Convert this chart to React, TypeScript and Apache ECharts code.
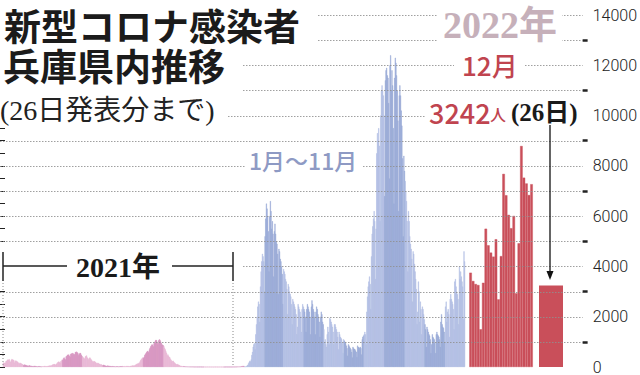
import React, { useEffect, useRef } from "react";
import * as echarts from "echarts";

// Daily new cases in Hyogo (one array per month)
const cases2021: number[][] = [
  [180,150,170,160,230,250,280,300,290,310,230,200,280,320,300,290,270,180,240,260,230,220,200,170,120,170,160,140,130,110,90],
  [70,100,90,80,70,60,50,40,70,60,50,50,40,35,25,40,45,40,35,30,25,20,30,35,30,25,20,20],
  [25,30,30,35,40,30,25,30,40,45,50,55,60,50,70,90,100,110,120,110,90,120,140,180,200,220,190,170,230,260,300],
  [280,350,380,330,300,420,440,490,480,500,450,400,520,540,510,560,530,480,520,600,580,610,580,540,470,520,560,550,490,430],
  [420,380,360,330,420,440,460,380,340,300,360,380,340,300,260,230,200,240,230,210,180,160,140,170,150,130,120,100,110,90,70],
  [80,90,70,60,50,45,40,60,50,45,40,35,30,25,35,30,28,25,22,20,25,28,25,22,20,25,30,28,30,35],
  [30,28,32,30,25,35,40,38,36,30,28,40,45,50,55,60,58,50,70,90,110,120,140,130,160,180,230,280,320,350,380],
  [360,400,480,520,560,600,640,620,580,700,760,820,860,900,880,820,940,1000,1050,1080,1060,980,900,1060,1100,1080,1020,960,900,880,860],
  [820,760,700,620,560,460,500,450,400,380,320,280,220,240,250,200,180,150,120,110,100,120,90,80,60,50,45,40,30,35],
  [30,25,20,22,20,15,18,15,12,10,12,10,8,10,9,8,7,6,8,7,6,5,6,5,4,5,6,4,3,5,4],
  [3,4,3,2,3,4,2,3,2,1,2,3,2,1,2,3,2,1,2,2,3,2,1,2,3,2,3,2,3,2],
  [3,2,3,4,2,3,4,5,3,4,3,2,4,5,6,5,6,8,7,9,10,12,15,18,16,20,25,30,40,35,45],
];

const cases2022JanNov: number[][] = [
  [15,20,20,40,60,90,150,200,250,220,300,480,600,800,900,950,700,1300,1700,2000,2400,2600,2500,1800,3200,3800,4200,4500,4400,4200,3000],
  [5200,5900,6500,6300,6000,5400,3800,6000,6600,6200,5500,5800,5300,3600,5400,5700,5300,5000,4900,4500,2900,4700,4600,4300,4200,4000,3700,2500],
  [3900,3800,3700,3500,3400,3100,2100,3300,3200,3000,2900,2800,2500,1700,2700,2600,2500,2400,2300,2100,1300,1600,2500,2400,2300,2200,2000,1400,2300,2500,2400],
  [2300,2200,2000,1400,2300,2500,2400,2300,2200,2000,1300,2400,2650,2500,2300,2200,2000,1300,2200,2400,2300,2100,2000,1800,1200,2000,2200,2100,1800,1700],
  [1500,1000,1100,900,800,1300,1600,1400,900,1950,1900,1800,1700,1600,1400,900,1700,1700,1600,1500,1400,1200,700,1400,1300,1200,1150,1100,950,550,1100],
  [1050,1000,950,850,750,450,900,850,800,750,700,600,380,800,750,720,700,650,600,400,850,800,780,750,800,750,500,1100,1200,1250],
  [1300,1400,1300,900,2200,2800,3200,3400,3600,3300,2300,4400,5300,5600,5900,6200,5800,3500,5500,8500,9300,9000,9500,8800,5800,10000,11000,11200,11000,10800,10000],
  [6800,11400,11800,11900,11600,11500,10500,7500,12000,12400,11000,11800,11200,9500,6500,11500,12300,12100,11600,11000,9800,6200,10800,11200,10800,10200,9600,8300,5200,8400,7800],
  [7400,7000,6600,5800,3800,6200,5800,5200,4900,4700,4300,2600,4600,4500,4100,3800,3500,3100,1700,2200,3400,3000,1800,2600,2300,1300,2400,2300,2100,1900],
  [1700,1500,800,1600,1500,1400,1300,1250,1100,550,900,1300,1200,1150,1100,950,550,1300,1400,1300,1250,1200,1100,800,1800,2100,1700,1600,1550,1400,1000],
  [2400,2600,1800,2200,2300,2100,1200,2700,2900,2700,2600,2500,2300,1500,3400,3500,3200,3000,2900,2700,1700,4000,3500,3800,3600,3400,3200,1900,4600,4200],
];

const casesDec2022: number[] = [3750,3420,3300,3260,1500,3350,5500,4840,4550,4390,5080,2690,4410,7680,6830,6050,5520,6010,2930,4920,8790,7530,7300,6840,7270];
const lastDayLabel = "2022/12/26";
const lastDayValue = 3242;

const yMin = 0;
const yMax = 14000;
const yStep = 1000;
const yLabelStep = 2000;
const oddThousandTicks = [1000, 3000, 5000, 7000, 9000, 11000, 13000];
const gridLineValues = [1000, 2000, 3000, 4000, 5000, 6000, 7000, 8000, 9000, 10000, 11000, 12000, 13000, 14000];

const pinkLight = "#e9b6d5";
const pinkDark = "#d793bf";
const blueLight = "#b1bee4";
const blueDark = "#97a8d6";
const red = "#c94f5a";

const TOP = 15;
const H = 352;

function buildMain() {
  const labels: string[] = [];
  const data: any[] = [];
  const years: [number, number[][], string, string][] = [
    [2021, cases2021, pinkLight, pinkDark],
    [2022, cases2022JanNov, blueLight, blueDark],
  ];
  years.forEach(([year, months, light, dark]) => {
    months.forEach((arr, m) => {
      arr.forEach((v, d) => {
        labels.push(`${year}/${m + 1}/${d + 1}`);
        const c = m % 2 === 1 ? dark : light;
        data.push({ value: v, itemStyle: { color: c, borderColor: c, borderWidth: 0.4 } });
      });
    });
  });
  return { labels, data };
}

export default function App() {
  const ref = useRef<HTMLDivElement>(null);
  useEffect(() => {
    document.body.style.margin = "0";
    if (!ref.current) return;
    const chart = echarts.init(ref.current, undefined, { renderer: "svg" });
    const main = buildMain();
    const decLabels = casesDec2022.map((_, i) => `2022/12/${i + 1}`);
    const hiddenY = (gi: number) => ({
      type: "value", gridIndex: gi, min: yMin, max: yMax, show: false, splitLine: { show: false },
    });
    const sans = '"Noto Sans CJK JP", sans-serif';
    const serif = '"Liberation Serif", "DejaVu Serif", "Noto Sans CJK JP", serif';
    const white = { fill: "#ffffff" };
    const option: any = {
      animation: false,
      backgroundColor: "#ffffff",
      grid: [
        { left: 3, top: TOP, width: 462, height: H },
        { left: 469.3, top: TOP, width: 63.5, height: H },
        { left: 539, top: TOP, width: 24, height: H },
        { left: 0, top: TOP, width: 583, height: H },
      ],
      xAxis: [
        { type: "category", gridIndex: 0, data: main.labels, show: false },
        { type: "category", gridIndex: 1, data: decLabels, show: false },
        { type: "category", gridIndex: 2, data: [lastDayLabel], show: false },
        { type: "value", gridIndex: 3, min: 0, max: 1, show: false },
      ],
      yAxis: [
        hiddenY(0),
        hiddenY(1),
        hiddenY(2),
        {
          type: "value", gridIndex: 3, min: yMin, max: yMax, interval: yStep, position: "right",
          axisLine: { show: false },
          axisTick: { show: true, length: 5, lineStyle: { color: "#222", width: 1 } },
          minorTick: { show: true, splitNumber: 2, length: 5, lineStyle: { color: "#222", width: 1 } },
          minorSplitLine: { show: false },
          axisLabel: {
            margin: 10, color: "#222", fontSize: 16, fontFamily: "Roboto", fontWeight: 300,
            formatter: (v: number) => (v % yLabelStep === 0 ? String(v) : ""),
          },
          splitLine: { show: false },
        },
        {
          type: "value", gridIndex: 3, min: yMin, max: yMax, interval: yStep, position: "right",
          axisLine: { show: false },
          axisTick: { show: true, length: 5, customValues: oddThousandTicks, lineStyle: { color: "#222", width: 2.5 } },
          axisLabel: { show: false },
          splitLine: { show: false },
        },
      ],
      series: [
        { type: "bar", xAxisIndex: 0, yAxisIndex: 0, data: main.data, barCategoryGap: "0%", z: 2 },
        { type: "bar", xAxisIndex: 1, yAxisIndex: 1, data: casesDec2022, barCategoryGap: "0%", itemStyle: { color: red, borderColor: red, borderWidth: 0.4 }, z: 2 },
        { type: "bar", xAxisIndex: 2, yAxisIndex: 2, data: [lastDayValue], barWidth: "100%", itemStyle: { color: red }, z: 2 },
        {
          // dotted horizontal grid, placed through the value axis, drawn across the bars
          type: "custom", xAxisIndex: 3, yAxisIndex: 3, z: 4, silent: true,
          data: gridLineValues.map((v) => [0, v]),
          renderItem: (_params: any, api: any) => {
            const v = api.value(1);
            const a = api.coord([0, v]);
            const b = api.coord([1, v]);
            const y = Math.round(a[1]) + 0.5;
            return {
              type: "line",
              shape: { x1: a[0], y1: y, x2: b[0], y2: y },
              style: { stroke: "#8f8f8f", lineWidth: 1, lineDash: [1.5, 1.5], opacity: 0.85 },
            };
          },
        },
      ],
      graphic: [
        // white patches behind texts (interrupt the dotted grid)
        { type: "rect", z: 4.5, shape: { x: 0, y: 0, width: 318, height: 44 }, style: white },
        { type: "rect", z: 4.5, shape: { x: 0, y: 44, width: 243, height: 51 }, style: white },
        { type: "rect", z: 4.5, shape: { x: 0, y: 95, width: 228, height: 32 }, style: white },
        { type: "rect", z: 4.5, shape: { x: 438, y: 3, width: 124, height: 42 }, style: white },
        { type: "rect", z: 4.5, shape: { x: 454, y: 50, width: 70, height: 28 }, style: white },
        { type: "rect", z: 4.5, shape: { x: 426, y: 99, width: 157, height: 28 }, style: white },
        { type: "rect", z: 4.5, shape: { x: 246, y: 148, width: 117, height: 26 }, style: white },
        { type: "rect", z: 4.5, shape: { x: 0, y: 254, width: 242, height: 26 }, style: white },
        // title
        { type: "text", z: 5, x: 4, y: 25, style: { text: "新型コロナ感染者", font: `bold 37px ${sans}`, fill: "#1b1b1b", verticalAlign: "middle" } },
        { type: "text", z: 5, x: 3, y: 64.5, style: { text: "兵庫県内推移", font: `bold 37px ${sans}`, fill: "#1b1b1b", verticalAlign: "middle" } },
        { type: "text", z: 5, x: 0, y: 110, style: { text: "(26日発表分まで)", font: `28px ${serif}`, fill: "#222", verticalAlign: "middle" } },
        // year / month labels
        { type: "text", z: 5, x: 443, y: 25, style: { text: "2022年", font: `bold 38px ${serif}`, fill: "#c6b0ba", verticalAlign: "middle" } },
        { type: "text", z: 5, x: 462, y: 64, style: { text: "12月", font: `500 26px ${sans}`, fill: "#c0444f", verticalAlign: "middle" } },
        { type: "text", z: 5, x: 429, y: 112, style: { text: "3242", font: `500 27px ${sans}`, fill: "#c0444f", verticalAlign: "middle" } },
        { type: "text", z: 5, x: 490, y: 114, style: { text: "人", font: `500 16px ${sans}`, fill: "#c0444f", verticalAlign: "middle" } },
        { type: "text", z: 5, x: 511, y: 112, style: { text: "(26日)", font: `bold 25px ${serif}`, fill: "#1a1a1a", verticalAlign: "middle" } },
        { type: "text", z: 5, x: 249, y: 160, style: { text: "1月～11月", font: `500 23px ${sans}`, fill: "#8e9ac4", verticalAlign: "middle" } },
        { type: "text", z: 5, x: 118, y: 267, style: { text: "2021年", font: `bold 28px ${serif}`, fill: "#1a1a1a", align: "center", verticalAlign: "middle" } },
        // 2021 bracket
        { type: "line", z: 5, shape: { x1: 3, y1: 252, x2: 3, y2: 281 }, style: { stroke: "#222", lineWidth: 1.5 } },
        { type: "line", z: 5, shape: { x1: 233, y1: 252, x2: 233, y2: 281 }, style: { stroke: "#222", lineWidth: 1.5 } },
        { type: "line", z: 5, shape: { x1: 3, y1: 266, x2: 67, y2: 266 }, style: { stroke: "#222", lineWidth: 1.3 } },
        { type: "line", z: 5, shape: { x1: 172, y1: 266, x2: 233, y2: 266 }, style: { stroke: "#222", lineWidth: 1.3 } },
        { type: "line", z: 5, shape: { x1: 3, y1: 283, x2: 3, y2: 366 }, style: { stroke: "#888", lineWidth: 1, lineDash: [1, 2] } },
        { type: "line", z: 5, shape: { x1: 233, y1: 283, x2: 233, y2: 366 }, style: { stroke: "#888", lineWidth: 1, lineDash: [1, 2] } },
        // arrow to last day
        { type: "line", z: 5, shape: { x1: 550, y1: 125, x2: 550, y2: 274 }, style: { stroke: "#111", lineWidth: 1.3 } },
        { type: "polygon", z: 5, shape: { points: [[546.5, 271], [553.5, 271], [550, 280]] }, style: { fill: "#111" } },
      ],
    };
    chart.setOption(option);
    return () => chart.dispose();
  }, []);
  return <div ref={ref} style={{ width: 640, height: 375 }} />;
}
